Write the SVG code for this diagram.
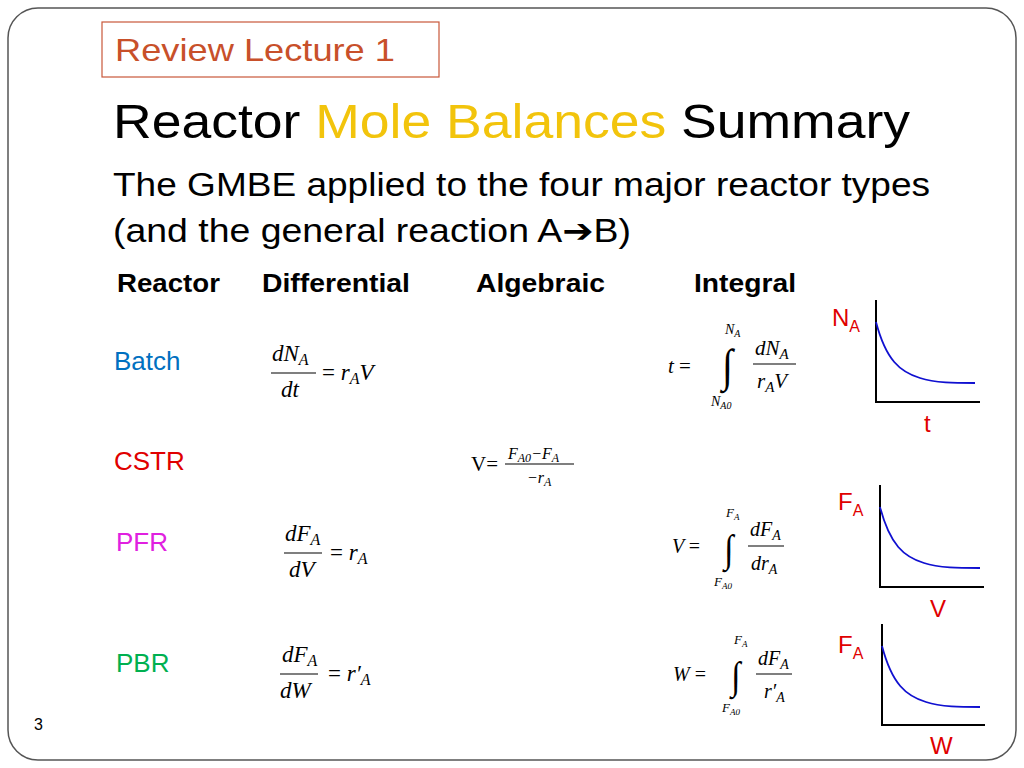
<svg xmlns="http://www.w3.org/2000/svg" width="1024" height="768" viewBox="0 0 1024 768">
<style>
.s{font-family:"Liberation Sans",Arial,sans-serif}
.h{font-family:"Liberation Sans",Arial,sans-serif;font-weight:bold;font-size:26px;fill:#000}
.m{font-family:"Liberation Serif","DejaVu Serif",serif;font-style:italic;fill:#000}
.r{fill:#e00000;font-family:"Liberation Sans",Arial,sans-serif}
.ax{fill:none;stroke:#000;stroke-width:2}
.cv{fill:none;stroke:#1010d0;stroke-width:1.8}
.fl{stroke:#000;stroke-width:1.2}
</style>
<rect width="1024" height="768" fill="#fff"/>
<path d="M38,8 H986 A30,30 0 0 1 1016,38 V730 A30,30 0 0 1 986,760 H38 A30,30 0 0 1 8,730 V38 A30,30 0 0 1 38,8 Z" fill="none" stroke="#555" stroke-width="1.5"/>
<g id="header">
<rect x="102" y="22" width="337" height="55" fill="none" stroke="#c8583a" stroke-width="1.2"/>
<text x="115" y="61" class="s" font-size="32" fill="#c8502a" textLength="280" lengthAdjust="spacingAndGlyphs">Review Lecture 1</text>
<text x="113" y="138" class="s" font-size="48" fill="#000" textLength="797" lengthAdjust="spacingAndGlyphs">Reactor <tspan fill="#f2c40c">Mole Balances</tspan> Summary</text>
<text x="113" y="196" class="s" font-size="33" fill="#000" textLength="817" lengthAdjust="spacingAndGlyphs">The GMBE applied to the four major reactor types</text>
<text x="113" y="242" class="s" font-size="33" fill="#000" textLength="518" lengthAdjust="spacingAndGlyphs">(and the general reaction A<tspan font-family="DejaVu Sans">➔</tspan>B)</text>
<text x="117" y="292" class="h" textLength="103" lengthAdjust="spacingAndGlyphs">Reactor</text>
<text x="262" y="292" class="h" textLength="148" lengthAdjust="spacingAndGlyphs">Differential</text>
<text x="476" y="292" class="h" textLength="129" lengthAdjust="spacingAndGlyphs">Algebraic</text>
<text x="694" y="292" class="h" textLength="102" lengthAdjust="spacingAndGlyphs">Integral</text>
</g>
<g id="rows" class="s" font-size="26">
<text x="114" y="370" fill="#0070c0">Batch</text>
<text x="114" y="470" fill="#e00000">CSTR</text>
<text x="116" y="551" fill="#e020e0">PFR</text>
<text x="116" y="672" fill="#00b050">PBR</text>
</g>
<g id="differential">
<text x="272" y="361" class="m" font-size="23">dN<tspan font-size="16" dy="4">A</tspan></text>
<line x1="271" y1="373" x2="316" y2="373" class="fl"/>
<text x="281" y="397" class="m" font-size="23">dt</text>
<text x="322" y="380" class="m" font-size="23"><tspan font-style="normal">=</tspan> r<tspan font-size="16" dy="4">A</tspan><tspan dy="-4">V</tspan></text>
<text x="285" y="541" class="m" font-size="23">dF<tspan font-size="16" dy="4">A</tspan></text>
<line x1="284" y1="553" x2="322" y2="553" class="fl"/>
<text x="289" y="577" class="m" font-size="23">dV</text>
<text x="330" y="560" class="m" font-size="23"><tspan font-style="normal">=</tspan> r<tspan font-size="16" dy="4">A</tspan></text>
<text x="282" y="662" class="m" font-size="23">dF<tspan font-size="16" dy="4">A</tspan></text>
<line x1="280" y1="674" x2="318" y2="674" class="fl"/>
<text x="280" y="698" class="m" font-size="23">dW</text>
<text x="328" y="681" class="m" font-size="23"><tspan font-style="normal">=</tspan> r′<tspan font-size="16" dy="4">A</tspan></text>
</g>
<g id="algebraic">
<text x="471" y="471" font-family="Liberation Serif,serif" font-size="21">V=</text>
<text x="508" y="459" class="m" font-size="16">F<tspan font-size="12" dy="3">A0</tspan><tspan dy="-3">−F</tspan><tspan font-size="12" dy="3">A</tspan></text>
<line x1="505" y1="464" x2="574" y2="464" class="fl" stroke-width="1"/>
<text x="527" y="483" class="m" font-size="16">−r<tspan font-size="12" dy="3">A</tspan></text>
</g>
<g id="integral">
<text x="668" y="373" class="m" font-size="21">t <tspan font-style="normal">=</tspan></text>
<text x="725" y="334" class="m" font-size="14">N<tspan font-size="10" dy="3">A</tspan></text>
<text x="722" y="381" font-family="Liberation Serif,serif" font-size="40" transform="translate(722 381) scale(1 1.15) translate(-722 -381)">∫</text>
<text x="711" y="406" class="m" font-size="14">N<tspan font-size="10" dy="3">A0</tspan></text>
<text x="755" y="355" class="m" font-size="21">dN<tspan font-size="15" dy="4">A</tspan></text>
<line x1="753" y1="364" x2="796" y2="364" class="fl"/>
<text x="757" y="388" class="m" font-size="21">r<tspan font-size="15" dy="4">A</tspan><tspan dy="-4">V</tspan></text>

<text x="672" y="553" class="m" font-size="20">V <tspan font-style="normal">=</tspan></text>
<text x="726" y="517" class="m" font-size="13">F<tspan font-size="9" dy="3">A</tspan></text>
<text x="724" y="562" font-family="Liberation Serif,serif" font-size="34" transform="translate(724 562) scale(1 1.15) translate(-724 -562)">∫</text>
<text x="714" y="586" class="m" font-size="13">F<tspan font-size="9" dy="3">A0</tspan></text>
<text x="750" y="536" class="m" font-size="20">dF<tspan font-size="14" dy="4">A</tspan></text>
<line x1="748" y1="546" x2="784" y2="546" class="fl"/>
<text x="751" y="570" class="m" font-size="20">dr<tspan font-size="14" dy="4">A</tspan></text>

<text x="673" y="681" class="m" font-size="20">W <tspan font-style="normal">=</tspan></text>
<text x="734" y="644" class="m" font-size="13">F<tspan font-size="9" dy="3">A</tspan></text>
<text x="731" y="689" font-family="Liberation Serif,serif" font-size="34" transform="translate(731 689) scale(1 1.15) translate(-731 -689)">∫</text>
<text x="722" y="712" class="m" font-size="13">F<tspan font-size="9" dy="3">A0</tspan></text>
<text x="758" y="665" class="m" font-size="20">dF<tspan font-size="14" dy="4">A</tspan></text>
<line x1="756" y1="674" x2="792" y2="674" class="fl"/>
<text x="764" y="698" class="m" font-size="20">r′<tspan font-size="14" dy="4">A</tspan></text>
</g>
<g id="graph1">
<path d="M876,300 V402 H980" class="ax"/>
<path d="M876,322 C886,360 900,372 920,378 C935,383 955,383 975,383" class="cv"/>
<text x="832" y="326" class="r" font-size="24">N<tspan font-size="16" dy="6">A</tspan></text>
<text x="924" y="432" class="r" font-size="24">t</text>
</g>
<g id="graph2">
<path d="M880,485 V587 H984" class="ax"/>
<path d="M880,507 C890,545 904,557 924,563 C939,568 959,568 980,568" class="cv"/>
<text x="838" y="510" class="r" font-size="24">F<tspan font-size="16" dy="6">A</tspan></text>
<text x="930" y="617" class="r" font-size="24">V</text>
</g>
<g id="graph3">
<path d="M882,624 V725 H985" class="ax"/>
<path d="M882,646 C892,684 906,696 926,702 C941,707 961,707 980,707" class="cv"/>
<text x="838" y="653" class="r" font-size="24">F<tspan font-size="16" dy="6">A</tspan></text>
<text x="930" y="754" class="r" font-size="24">W</text>
</g>
<text x="34" y="730" class="s" font-size="16" fill="#000">3</text>
</svg>
